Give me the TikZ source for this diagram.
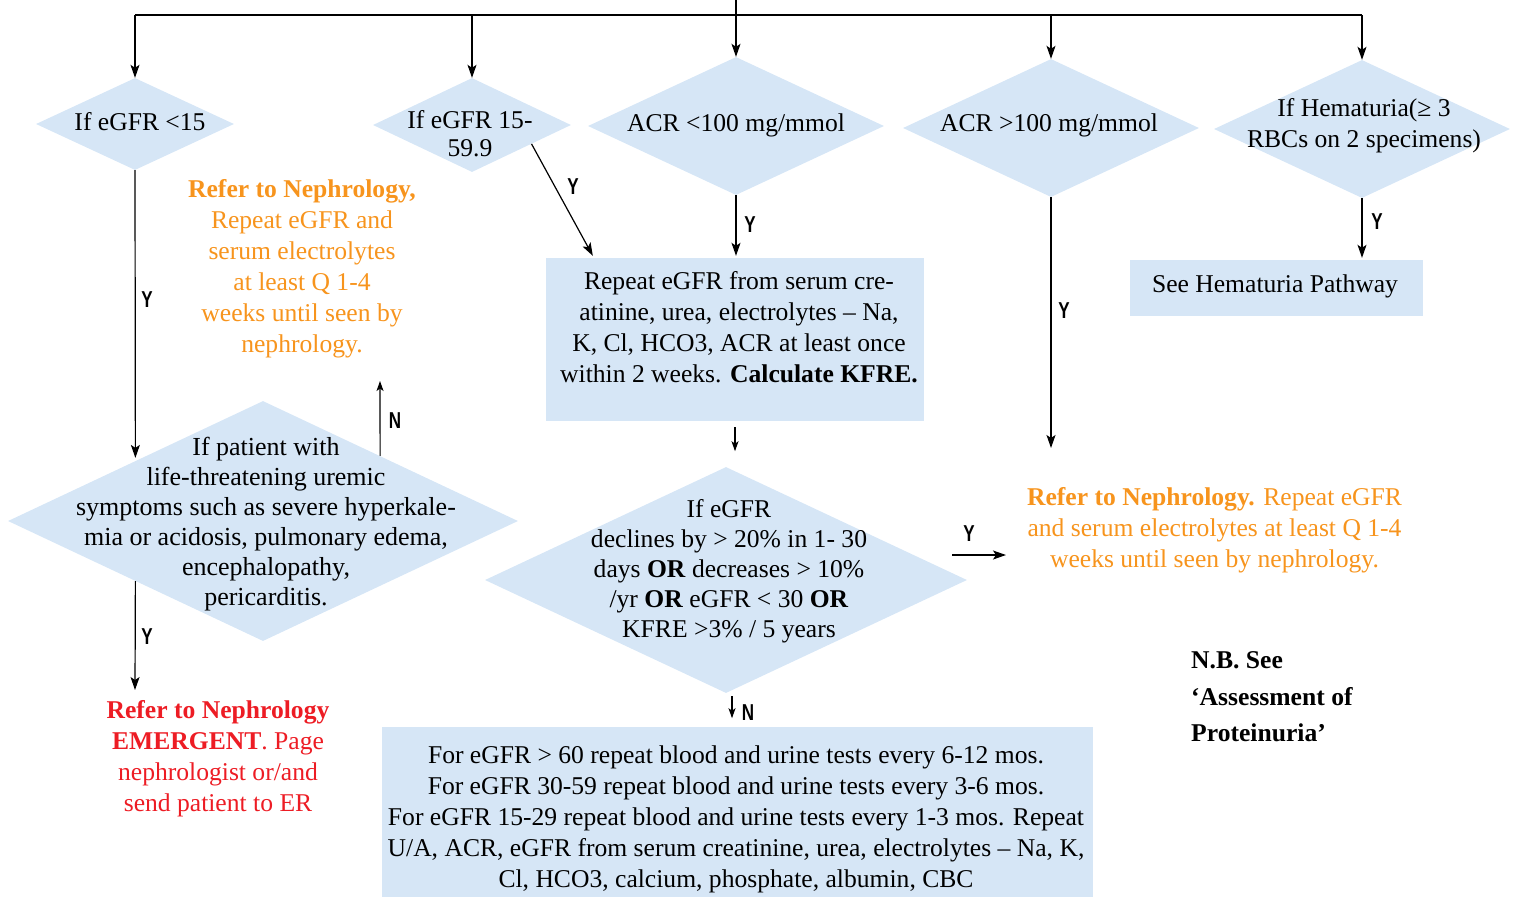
\documentclass[tikz,border=0pt]{standalone}
\usepackage{fontspec}
\setmainfont{Liberation Serif}
\setsansfont{Liberation Sans}
\usetikzlibrary{shapes.geometric,arrows.meta,calc}
\definecolor{fillblue}{HTML}{D6E6F6}
\definecolor{orng}{HTML}{F7941D}
\definecolor{rd}{HTML}{ED1C24}
\newcommand{\yn}[1]{\scalebox{0.74}[1]{#1}}
\begin{document}
\begin{tikzpicture}[x=1pt,y=-1pt,
  dia/.style={diamond, fill=fillblue, inner sep=0pt},
  boxx/.style={rectangle, fill=fillblue, inner sep=0pt},
  txt/.style={align=center, inner sep=0pt, font=\fontsize{25.6}{31}\selectfont},
  lbl/.style={inner sep=0pt, font=\fontsize{23}{23}\selectfont\sffamily\bfseries},
  conn/.style={line width=1.2pt},
  arr/.style={line width=1.2pt, -{Stealth[length=13pt,width=9pt,inset=3pt]}},
  sarr/.style={line width=1.2pt, -{Stealth[length=10pt,width=7pt,inset=2.5pt]}}]
\useasboundingbox (0,0) rectangle (1516,898);

% diamonds
\node[dia, minimum width=198pt, minimum height=92pt] (d1) at (135,124) {};
\node[dia, minimum width=198pt, minimum height=94pt] (d2) at (472,125) {};
\node[dia, minimum width=296pt, minimum height=138pt] (d3) at (736,126) {};
\node[dia, minimum width=296pt, minimum height=138pt] (d4) at (1051,128) {};
\node[dia, minimum width=296pt, minimum height=138pt] (d5) at (1362,129) {};
\node[dia, minimum width=482pt, minimum height=226pt] (d6) at (726,580) {};
\node[dia, minimum width=510pt, minimum height=240pt] (d7) at (263,521) {};

% boxes
\node[boxx, minimum width=378pt, minimum height=163pt] (b1) at (735,339.5) {};
\node[boxx, minimum width=293pt, minimum height=56pt] (hb) at (1276.5,288) {};
\node[boxx, minimum width=711pt, minimum height=170pt] (b2) at (737.5,812) {};

% texts
\node[txt] (t1) at (140,122) {If eGFR <15};
\node[txt, font=\fontsize{25.6}{28}\selectfont] (t2) at (470,134) {If eGFR 15-\\59.9};
\node[txt] (t3) at (736,125) {ACR <100 mg/mmol};
\node[txt] (t4) at (1049,125) {ACR >100 mg/mmol};
\node[txt] (t5) at (1364,126) {If Hematuria(≥ 3\\RBCs on 2 specimens)};
\node[txt] (tb1) at (739,327) {Repeat eGFR from serum cre-\\atinine, urea, electrolytes – Na,\\K, Cl, HCO3, ACR at least once\\within 2 weeks. \textbf{Calculate KFRE.}};
\node[txt] (thb) at (1275,286) {See Hematuria Pathway};
\node[txt, font=\fontsize{25.6}{30}\selectfont] (t6) at (729,571) {If eGFR\\declines by > 20\% in 1- 30\\days \textbf{OR} decreases > 10\%\\/yr \textbf{OR} eGFR < 30 \textbf{OR}\\KFRE >3\% / 5 years};
\node[txt, font=\fontsize{26}{30}\selectfont] (t7) at (266,524) {If patient with\\life-threatening uremic\\symptoms such as severe hyperkale-\\mia or acidosis, pulmonary edema,\\encephalopathy,\\pericarditis.};
\node[txt] (tb2) at (736,819) {For eGFR > 60 repeat blood and urine tests every 6-12 mos.\\For eGFR 30-59 repeat blood and urine tests every 3-6 mos.\\For eGFR 15-29 repeat blood and urine tests every 1-3 mos. Repeat\\U/A, ACR, eGFR from serum creatinine, urea, electrolytes – Na, K,\\Cl, HCO3, calcium, phosphate, albumin, CBC};
\node[txt, text=orng] (oL) at (302,269) {\textbf{Refer to Nephrology,}\\Repeat eGFR and\\serum electrolytes\\at least Q 1-4\\weeks until seen by\\nephrology.};
\node[txt, text=orng] (oR) at (1214.5,530) {\textbf{Refer to Nephrology.} Repeat eGFR\\and serum electrolytes at least Q 1-4\\weeks until seen by nephrology.};
\node[txt, text=rd] (red) at (218,759) {\textbf{Refer to Nephrology}\\\textbf{EMERGENT}. Page\\nephrologist or/and\\send patient to ER};
\node[txt, align=left, anchor=west, font=\fontsize{25.6}{36.5}\selectfont\bfseries] (nb) at (1191,697) {N.B. See\\`Assessment of\\Proteinuria'};

% top bus
\coordinate (top) at (736,0);
\coordinate (bus) at (736,15);
\draw[conn] (top) -- (bus);
\draw[conn] (d1.north |- bus) -- (d5.north |- bus);
\draw[arr] (d1.north |- bus) -- (d1.north);
\draw[arr] (d2.north |- bus) -- (d2.north);
\draw[arr] (d3.north |- bus) -- (d3.north);
\draw[arr] (d4.north |- bus) -- (d4.north);
\draw[arr] (d5.north |- bus) -- (d5.north);

% d2 -> b1
\draw[arr] ($(d2.east)!0.4!(d2.south)$) -- ($(b1.north west)+(47,-2)$);
\node[lbl] (y1) at (573,187) {\yn{Y}};
% d3 -> b1
\draw[arr] (d3.south) -- ($(d3.south |- b1.north)+(0,-2)$);
\node[lbl] (y2) at (750,225) {\yn{Y}};
% b1 -> d6
\coordinate (c1) at ($(b1.south)+(0,6)$);
\coordinate (c2) at ($(c1)+(0,24)$);
\draw[sarr] (c1) -- (c2);
% d6 -> right
\coordinate (c3) at (952,555);
\coordinate (c4) at (1006,555);
\draw[arr] (c3) -- (c4);
\node[lbl] (y3) at (969,534) {\yn{Y}};
% d6 -> b2
\coordinate (c5) at ($(d6.south)+(6,3)$);
\coordinate (c6) at ($(c5)+(0,22)$);
\draw[sarr] (c5) -- (c6);
\node[lbl] (n1) at (748,713) {\yn{N}};
% d4 -> down
\coordinate (c7) at (1051,448);
\draw[arr] (d4.south) -- (c7);
\node[lbl] (y4) at (1064,311) {\yn{Y}};
% d5 -> hb
\draw[arr] (d5.south) -- ($(d5.south |- hb.north)+(0,-2)$);
\node[lbl] (y5) at (1377,222) {\yn{Y}};
% d1 -> d7
\draw[arr] (d1.south) -- ($(d7.west)!0.5!(d7.north)+(0,-3)$);
\node[lbl] (y6) at (147,300) {\yn{Y}};
% d7 -> up N
\coordinate (c8) at (380,381);
\draw[sarr] ($(d7.north)!0.459!(d7.east)$) -- (c8);
\node[lbl] (n2) at (395,421) {\yn{N}};
% d7 -> red
\coordinate (c9) at (135,690);
\draw[arr] ($(d7.west)!0.5!(d7.south)$) -- (c9);
\node[lbl] (y7) at (147,637) {\yn{Y}};
\end{tikzpicture}
\end{document}
